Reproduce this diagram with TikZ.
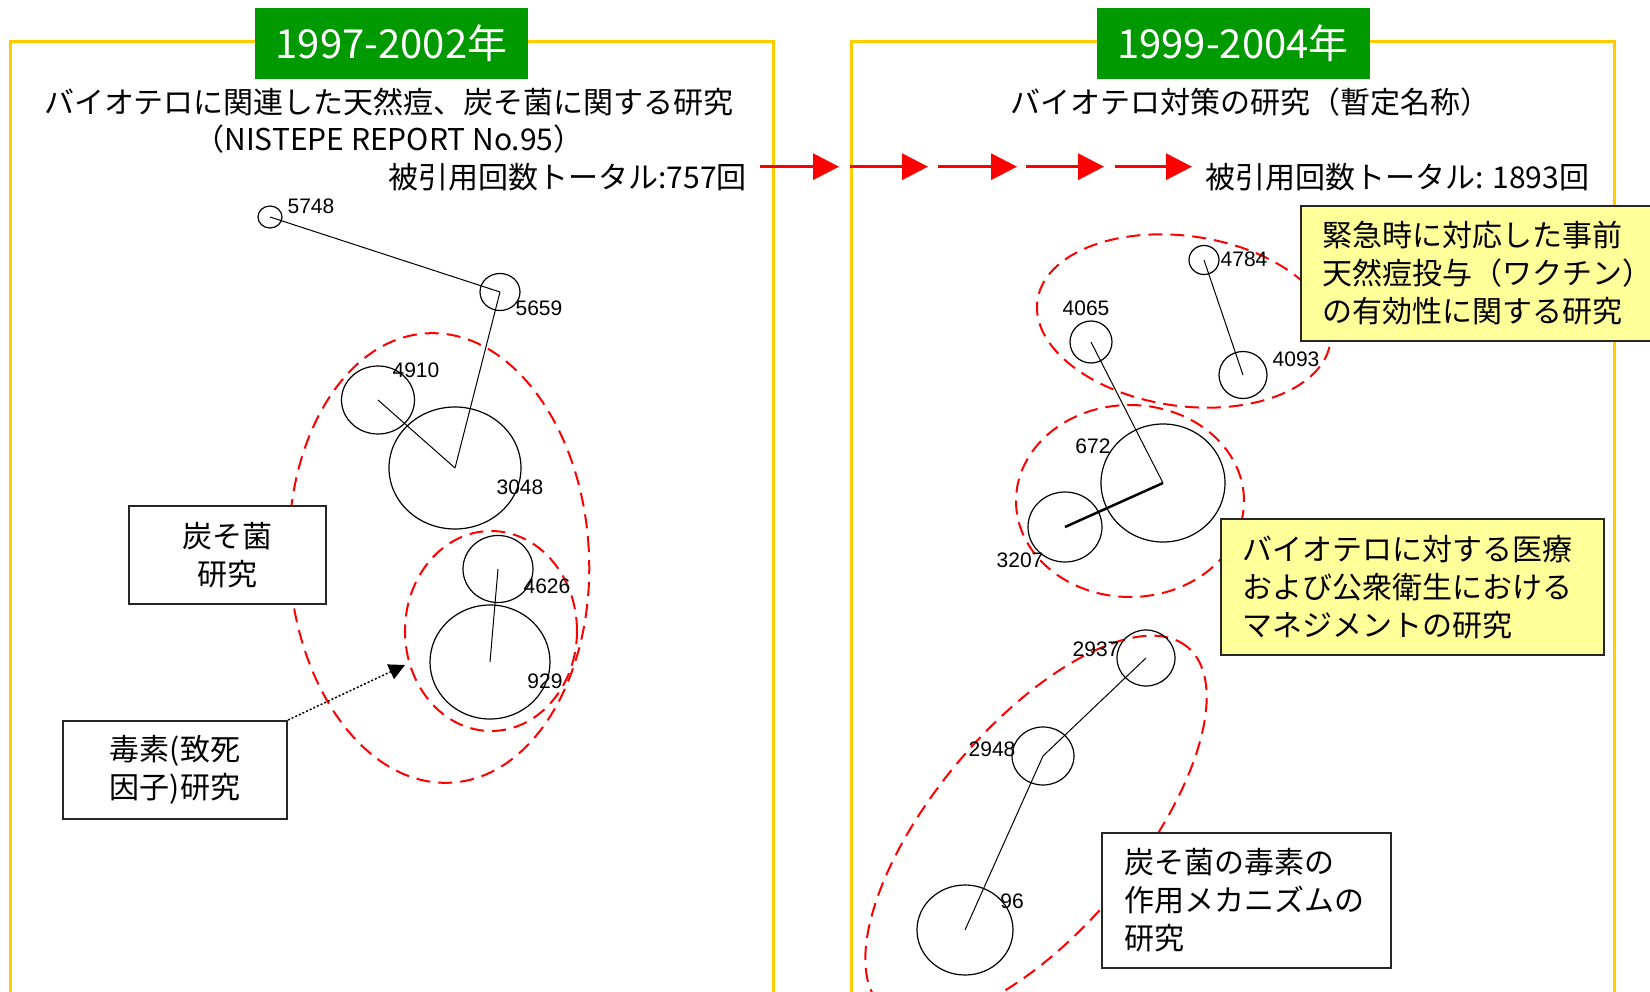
\documentclass[tikz,border=0pt]{standalone}
\usepackage{fontspec}
\setmainfont{Noto Sans CJK JP}
\newfontfamily\lblfont{Liberation Sans}
\usetikzlibrary{shapes.geometric,arrows.meta}
\definecolor{framey}{HTML}{FFCC00}
\definecolor{yrgreen}{HTML}{009900}
\definecolor{noteyel}{HTML}{FFFF99}
\definecolor{grpred}{HTML}{FF0000}
\begin{document}
\begin{tikzpicture}[x=1pt,y=-1pt,
  frame/.style={draw=framey,line width=3pt},
  yearbox/.style={fill=yrgreen,text=white,font=\fontsize{40}{44}\selectfont,inner sep=0pt,minimum width=273pt,minimum height=71pt},
  title/.style={font=\fontsize{30}{36}\selectfont,inner sep=0pt},
  circ/.style={draw,ellipse,line width=1.2pt,inner sep=0pt},
  lbl/.style={font=\lblfont\fontsize{21}{24}\selectfont,inner sep=0pt},
  grp/.style={draw=grpred,ellipse,line width=2pt,dash pattern=on 14pt off 8pt,inner sep=0pt},
  link/.style={line width=1pt},
  redarr/.style={draw=grpred,line width=3.3pt,-{Triangle[length=26pt,width=26pt]}},
  note/.style={draw=black!85,line width=2pt,font=\fontsize{30}{38}\selectfont,inner ysep=0pt},
]
\useasboundingbox (0,0) rectangle (1650,992);
\clip (0,0) rectangle (1650,992);
\fill[white] (0,0) rectangle (1650,992);

% frames
\draw[frame] (10.5,1000) -- (10.5,42) -- (773,42) -- (773,1000);
\draw[frame] (851,1000) -- (851,42) -- (1614,42) -- (1614,1000);
\node[yearbox] (yl) at (391.5,43.5) {1997-2002年};
\node[yearbox] (yr) at (1233,43.5) {1999-2004年};

% titles
\node[title] (tl1) at (389,102) {バイオテロに関連した天然痘、炭そ菌に関する研究};
\node[title] (tl2) at (389,139) {（NISTEPE REPORT No.95）};
\node[title,anchor=east] (tl3) at (747,177) {被引用回数トータル:757回};
\node[title] (tr1) at (1250,102) {バイオテロ対策の研究（暫定名称）};
\node[title,anchor=west] (tr3) at (1205,177) {被引用回数トータル: 1893回};

% red arrows
\coordinate (r0) at (760,166.7);
\coordinate (r1) at (839,166.7);
\coordinate (r2) at (850,166.7);
\coordinate (r3) at (928,166.7);
\coordinate (r4) at (938,166.7);
\coordinate (r5) at (1017,166.7);
\coordinate (r6) at (1026,166.7);
\coordinate (r7) at (1104,166.7);
\coordinate (r8) at (1115,166.7);
\coordinate (r9) at (1192,166.7);
\draw[redarr] (r0) -- (r1);
\draw[redarr] (r2) -- (r3);
\draw[redarr] (r4) -- (r5);
\draw[redarr] (r6) -- (r7);
\draw[redarr] (r8) -- (r9);

% left groups
\node[grp,minimum width=300pt,minimum height=450pt,rotate=3] (gL) at (439,558) {};
\node[grp,minimum width=172pt,minimum height=200pt] (gLs) at (491,631) {};

% left circles
\node[circ,minimum width=24pt,minimum height=22pt] (n5748) at (270,217) {};
\node[circ,minimum width=40pt,minimum height=37pt] (n5659) at (500,292) {};
\node[circ,minimum width=73pt,minimum height=68pt] (n4910) at (378,400) {};
\node[circ,minimum width=132pt,minimum height=122pt] (n3048) at (455,468) {};
\node[circ,minimum width=70pt,minimum height=67pt] (n4626) at (498,569) {};
\node[circ,minimum width=120pt,minimum height=114pt] (n929) at (490,662) {};

\draw[link] (n5748.center) -- (n5659.center);
\draw[link] (n5659.center) -- (n3048.center);
\draw[link] (n4910.center) -- (n3048.center);
\draw[link] (n4626.center) -- (n929.center);

\node[lbl] (l5748) at (311,206) {5748};
\node[lbl] (l5659) at (539,308) {5659};
\node[lbl] (l4910) at (416,370) {4910};
\node[lbl] (l3048) at (520,487) {3048};
\node[lbl] (l4626) at (547,586) {4626};
\node[lbl] (l929) at (545,681) {929};

% left boxes
\node[note,fill=white,minimum width=197pt,minimum height=98pt,align=center] (anth) at (227.5,555) {炭そ菌\\研究};
\node[note,fill=white,minimum width=224pt,minimum height=98pt,align=center] (tox) at (175,770) {毒素(致死\\因子)研究};
\coordinate (toxtip) at (405,665);
\draw[line width=1.5pt,dash pattern=on 2pt off 2pt,-{Triangle[length=16pt,width=16pt]}] (tox.north east) -- (toxtip);

% right groups
\node[grp,minimum width=296pt,minimum height=170pt,rotate=-8] (gR1) at (1184,321) {};
\node[grp,minimum width=228pt,minimum height=192pt] (gR2) at (1130,501) {};
\node[grp,minimum width=472pt,minimum height=204pt,rotate=50] (gR3) at (1036,828) {};

% right circles
\node[circ,minimum width=30pt,minimum height=29pt] (n4784) at (1204,260) {};
\node[circ,minimum width=48pt,minimum height=47pt] (n4093) at (1243,375) {};
\node[circ,minimum width=42pt,minimum height=42pt] (n4065) at (1091,342) {};
\node[circ,minimum width=124pt,minimum height=118pt] (n672) at (1163,483) {};
\node[circ,minimum width=74pt,minimum height=70pt] (n3207) at (1065,527) {};
\node[circ,minimum width=58pt,minimum height=56pt] (n2937) at (1146,658) {};
\node[circ,minimum width=62pt,minimum height=58pt] (n2948) at (1043,756) {};
\node[circ,minimum width=96pt,minimum height=90pt] (n96) at (965,930) {};

\draw[link] (n4784.center) -- (n4093.center);
\draw[link] (n4065.center) -- (n672.center);
\draw[line width=2.5pt] (n3207.center) -- (n672.center);
\draw[link] (n2937.center) -- (n2948.center);
\draw[link] (n2948.center) -- (n96.center);

\node[lbl] (l4784) at (1244,259) {4784};
\node[lbl] (l4093) at (1296,359) {4093};
\node[lbl] (l4065) at (1086,308) {4065};
\node[lbl] (l672) at (1093,446) {672};
\node[lbl] (l3207) at (1020,560) {3207};
\node[lbl] (l2937) at (1096,649) {2937};
\node[lbl] (l2948) at (992,749) {2948};
\node[lbl] (l96) at (1012,901) {96};

% right boxes
\node[note,fill=noteyel,anchor=north west,minimum height=135pt,inner xsep=21pt,text width=330pt,align=left] (yb1) at (1300,205) {緊急時に対応した事前\\天然痘投与（ワクチン）\\の有効性に関する研究};
\node[note,fill=noteyel,minimum height=136pt,inner xsep=21pt,text width=341pt,align=left] (yb2) at (1412.5,587) {バイオテロに対する医療\\および公衆衛生における\\マネジメントの研究};
\node[note,fill=white,minimum height=135pt,inner xsep=22pt,text width=245pt,align=left] (wb3) at (1246.5,900.5) {炭そ菌の毒素の\\作用メカニズムの\\研究};
\end{tikzpicture}
\end{document}
